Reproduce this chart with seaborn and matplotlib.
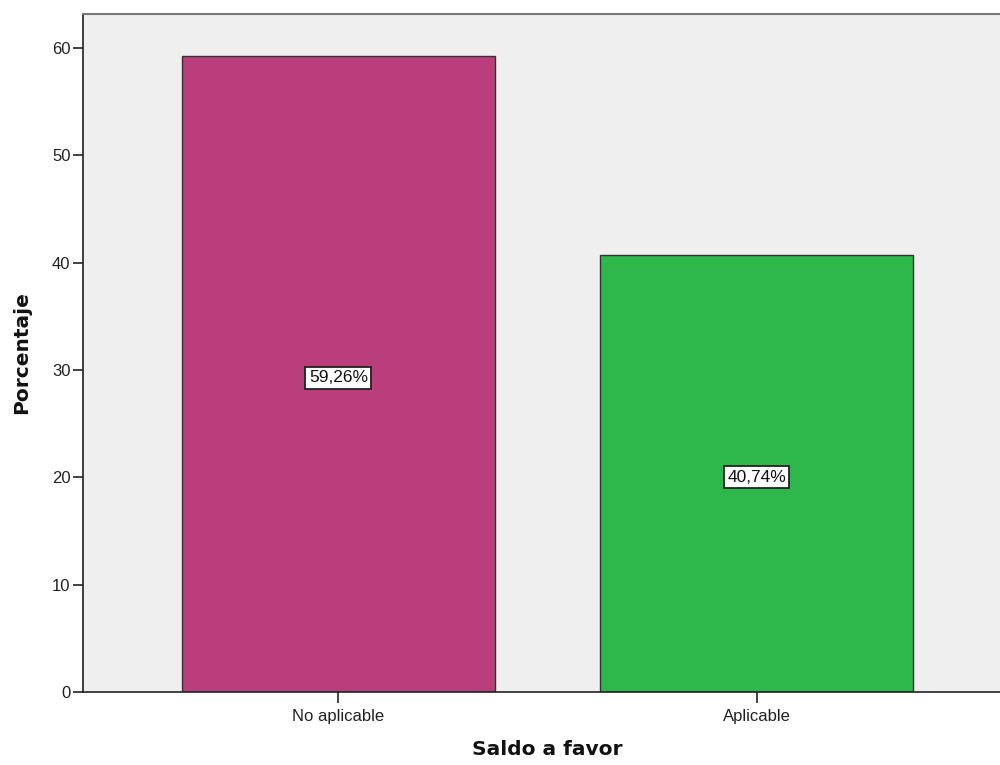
import matplotlib
matplotlib.use("Agg")
import matplotlib.pyplot as plt
import seaborn as sns
import pandas as pd

categories = ["No aplicable", "Aplicable"]
values = [59.26, 40.74]
labels = ["59,26%", "40,74%"]
colors = ["#BA3E7B", "#2EB84B"]
yticks = [0, 10, 20, 30, 40, 50, 60]

sns.set_style("white")
plt.rcParams['font.family'] = ['Liberation Sans', 'DejaVu Sans']

df = pd.DataFrame({"cat": categories, "val": values})

fig = plt.figure(figsize=(10, 7.65), dpi=100)
ax = fig.add_axes([0.083, 0.0954, 0.929, 0.8863])
ax.set_facecolor("#EFEFEF")

sns.barplot(data=df, x="cat", y="val", hue="cat", palette=colors, legend=False,
            width=0.75, edgecolor="#333333", linewidth=1.0, ax=ax, saturation=1)

ax.set_xlim(-0.611, 1.611)
ax.set_ylim(0, 63.17)
ax.set_yticks(yticks)
ax.set_yticklabels([str(t) for t in yticks], fontsize=12, color="#222222")
ax.set_xticks(range(len(categories)))
ax.set_xticklabels(categories, fontsize=12, color="#222222")
ax.tick_params(axis="both", direction="out", length=7, width=1.2, color="#222222", pad=2,
               left=True, bottom=True)
ax.tick_params(axis="x", length=8, pad=4)

for s in ["left", "bottom"]:
    ax.spines[s].set_color("#222222")
    ax.spines[s].set_linewidth(1.2)
ax.spines["top"].set_color("#777777")
ax.spines["top"].set_linewidth(1.5)
ax.spines["right"].set_visible(False)

ax.set_xlabel("Saldo a favor", fontsize=14.5, fontweight="bold", labelpad=12, color="#111111",
              family="DejaVu Sans")
ax.set_ylabel("Porcentaje", fontsize=14.5, fontweight="bold", labelpad=15, color="#111111",
              family="DejaVu Sans")

for i, (v, lab) in enumerate(zip(values, labels)):
    ax.text(i, v / 2 - 0.35, lab, ha="center", va="center", fontsize=12.5, color="#111111",
            bbox=dict(boxstyle="square,pad=0.2", facecolor="white", edgecolor="#222222", linewidth=1.3))

fig.savefig("out.png", dpi=100)
